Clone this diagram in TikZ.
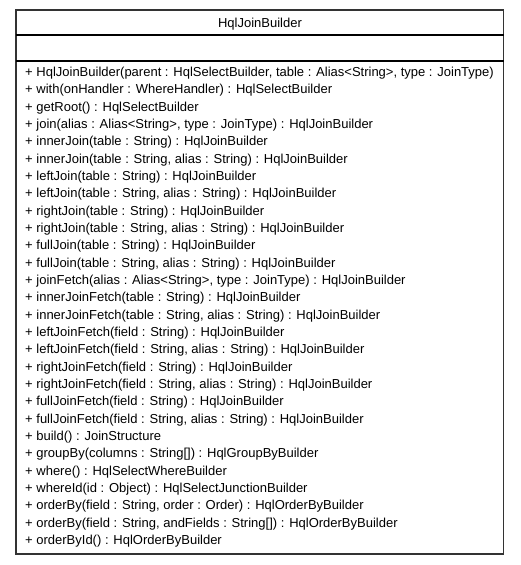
\documentclass[tikz,border=0pt]{standalone}
\usepackage{fontspec}
\setmainfont{Liberation Sans}
\begin{document}
\begin{tikzpicture}[x=1pt,y=-1pt,
  boxline/.style={draw=black!80,line width=1.3pt},
  sepline/.style={draw=black,line width=1.3pt},
  member/.style={anchor=base west,inner sep=0pt,font=\fontsize{13}{15}\selectfont},
  titletext/.style={anchor=base,inner sep=0pt,font=\fontsize{13}{15}\selectfont}]
\useasboundingbox (0,0) rectangle (520,565);
\fill[white] (0,0) rectangle (520,565);
\coordinate (tl) at (16,10);
\coordinate (br) at (503.5,554);
\draw[boxline] (tl) rectangle (br);
\coordinate (s1l) at (16,35); \coordinate (s1r) at (503.5,35);
\coordinate (s2l) at (16,61); \coordinate (s2r) at (503.5,61);
\draw[sepline] (s1l) -- (s1r);
\draw[sepline] (s2l) -- (s2r);
\node[titletext] (title) at (260,27.5) {HqlJoinBuilder};
\foreach \t [count=\i] in {
{+ HqlJoinBuilder(parent : HqlSelectBuilder, table : Alias<String>, type : JoinType)},
{+ with(onHandler : WhereHandler) : HqlSelectBuilder},
{+ getRoot() : HqlSelectBuilder},
{+ join(alias : Alias<String>, type : JoinType) : HqlJoinBuilder},
{+ innerJoin(table : String) : HqlJoinBuilder},
{+ innerJoin(table : String, alias : String) : HqlJoinBuilder},
{+ leftJoin(table : String) : HqlJoinBuilder},
{+ leftJoin(table : String, alias : String) : HqlJoinBuilder},
{+ rightJoin(table : String) : HqlJoinBuilder},
{+ rightJoin(table : String, alias : String) : HqlJoinBuilder},
{+ fullJoin(table : String) : HqlJoinBuilder},
{+ fullJoin(table : String, alias : String) : HqlJoinBuilder},
{+ joinFetch(alias : Alias<String>, type : JoinType) : HqlJoinBuilder},
{+ innerJoinFetch(table : String) : HqlJoinBuilder},
{+ innerJoinFetch(table : String, alias : String) : HqlJoinBuilder},
{+ leftJoinFetch(field : String) : HqlJoinBuilder},
{+ leftJoinFetch(field : String, alias : String) : HqlJoinBuilder},
{+ rightJoinFetch(field : String) : HqlJoinBuilder},
{+ rightJoinFetch(field : String, alias : String) : HqlJoinBuilder},
{+ fullJoinFetch(field : String) : HqlJoinBuilder},
{+ fullJoinFetch(field : String, alias : String) : HqlJoinBuilder},
{+ build() : JoinStructure},
{+ groupBy(columns : String[]) : HqlGroupByBuilder},
{+ where() : HqlSelectWhereBuilder},
{+ whereId(id : Object) : HqlSelectJunctionBuilder},
{+ orderBy(field : String, order : Order) : HqlOrderByBuilder},
{+ orderBy(field : String, andFields : String[]) : HqlOrderByBuilder},
{+ orderById() : HqlOrderByBuilder}}
  \node[member] (m\i) at (25,{76.5+(\i-1)*17.33}) {\t};
\end{tikzpicture}
\end{document}
